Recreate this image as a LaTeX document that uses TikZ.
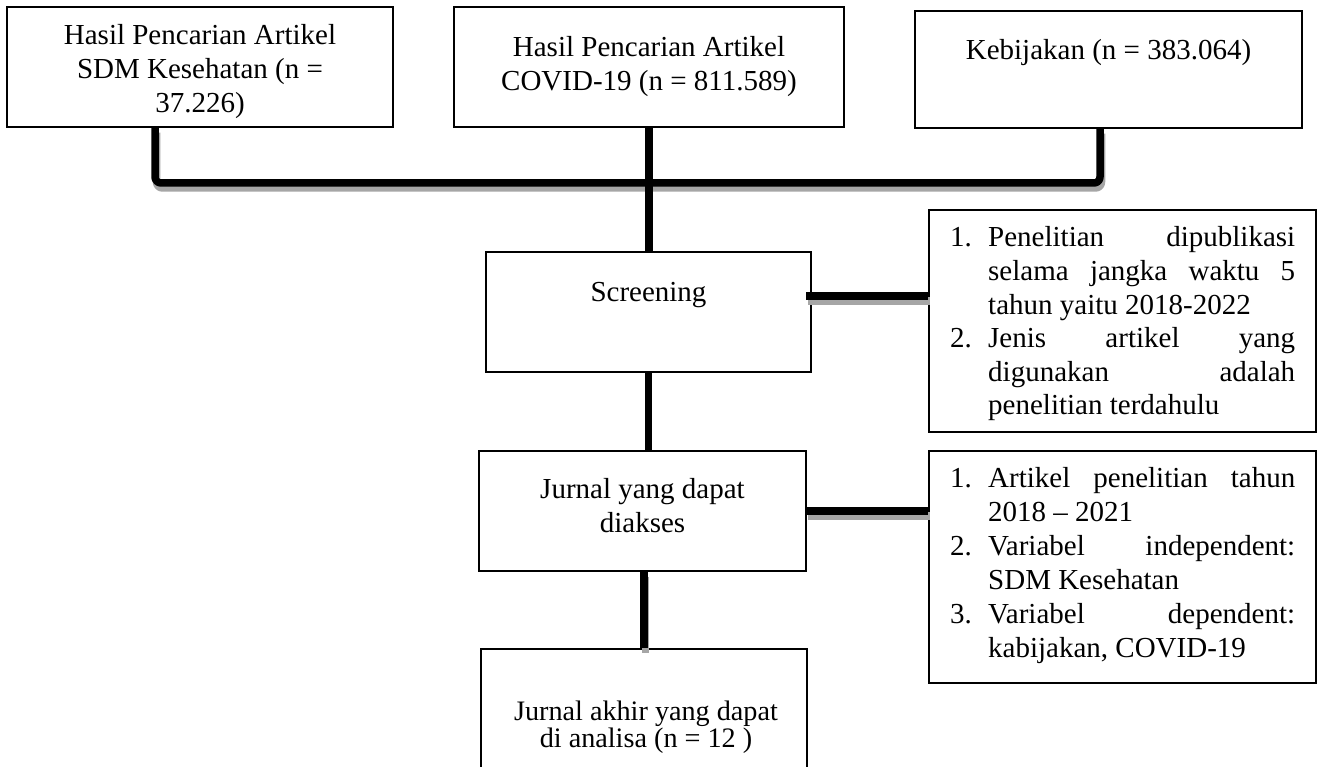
\documentclass[tikz,border=0pt]{standalone}
\usepackage{fontspec}
\setmainfont{Liberation Serif}
\newcommand\jlin[1]{\hbox to 307pt{\spaceskip=0.25em plus 1fil\relax #1}}
\newcommand\llin[1]{\hbox to 307pt{#1\hfil}}
\newcommand\numrow[2]{\hbox{\hbox to 38pt{#1\hfil}#2}}
\newcommand\indrow[1]{\hbox{\hskip38pt #1}}
\newcommand\ctext[2]{\vtop{\hsize=#1\parindent=0pt\centering #2\par}}
\tikzset{
  every node/.style={font=\fontsize{29}{34}\selectfont, inner sep=0pt},
  box/.style={draw, line width=1.3pt, fill=white, rectangle},
  conn/.style={line width=7.5pt, draw=black, rounded corners=6pt, line join=round},
  shad/.style={line width=7.5pt, draw=black!35, rounded corners=6pt, line join=round,
               transform canvas={xshift=1.5pt, yshift=-5pt}},
}
\begin{document}
\begin{tikzpicture}[x=1pt, y=-1pt]
\useasboundingbox (0,0) rectangle (1320,767);
\clip (0,0) rectangle (1320,767);
\fill[white] (0,0) rectangle (1320,767);

% boxes
\node[box, minimum width=386pt, minimum height=120pt] (b1) at (200,67) {};
\node[box, minimum width=390pt, minimum height=120pt] (b2) at (649,67) {};
\node[box, minimum width=387pt, minimum height=117pt] (b3) at (1108.5,69.5) {};
\node[box, minimum width=325pt, minimum height=120pt] (scr) at (648.5,312) {};
\node[box, minimum width=387pt, minimum height=222pt] (r1) at (1122.5,321) {};
\node[box, minimum width=327pt, minimum height=120pt] (jur) at (642.5,511) {};
\node[box, minimum width=387pt, minimum height=232pt] (r2) at (1122.5,567) {};
\node[box, minimum width=326pt, minimum height=151pt] (fin) at (644,724.5) {};

% texts
\node[anchor=base] (t1) at (200,45) {\ctext{380pt}{Hasil Pencarian Artikel\\SDM Kesehatan (n =\\37.226)}};
\node[anchor=base] (t2) at (649,57) {\ctext{380pt}{Hasil Pencarian Artikel\\COVID-19 (n = 811.589)}};
\node[anchor=base] (t3) at (1108.5,60) {Kebijakan (n = 383.064)};
\node[anchor=base] (ts) at (648.5,302) {Screening};
\node[anchor=base] (tj) at (642.5,498) {\ctext{320pt}{Jurnal yang dapat\\diakses}};
\node[anchor=base, font=\fontsize{28.2}{27.5}\selectfont] (tf) at (646,720) {\ctext{320pt}{Jurnal akhir yang dapat\\di analisa (n = 12 )}};
\node[anchor=base west] (tr1) at (950,247) {\vtop{\baselineskip=33.6pt
  \numrow{1.}{\jlin{Penelitian dipublikasi}}
  \indrow{\jlin{selama jangka waktu 5}}
  \indrow{\llin{tahun yaitu 2018-2022}}
  \numrow{2.}{\jlin{Jenis artikel yang}}
  \indrow{\jlin{digunakan adalah}}
  \indrow{\llin{penelitian terdahulu}}}};
\node[anchor=base west] (tr2) at (950,487) {\vtop{\baselineskip=34pt
  \numrow{1.}{\jlin{Artikel penelitian tahun}}
  \indrow{\llin{2018 – 2021}}
  \numrow{2.}{\jlin{Variabel independent:}}
  \indrow{\llin{SDM Kesehatan}}
  \numrow{3.}{\jlin{Variabel dependent:}}
  \indrow{\llin{kabijakan, COVID-19}}}};

% connector coordinates
\coordinate (busL) at (155,183);
\coordinate (busR) at (1100,183);
\coordinate (c1) at (806,296);

% shadows
\draw[shad] (b1.south -| busL) -- (busL) -- (busR) -- (b3.south -| busR);
\draw[shad] (c1) -- (c1 -| r1.west);
\draw[shad] (jur.east) -- (jur.east -| r2.west);
\draw[shad] (fin.north |- jur.south) -- (fin.north);

% connectors
\draw[conn] (b1.south -| busL) -- (busL) -- (busR) -- (b3.south -| busR);
\draw[conn] (b2.south) -- (b2.south |- scr.north);
\draw[conn] (scr.south) -- (scr.south |- jur.north);
\draw[conn] (c1) -- (c1 -| r1.west);
\draw[conn] (jur.east) -- (jur.east -| r2.west);
\draw[conn] (fin.north |- jur.south) -- (fin.north);
\end{tikzpicture}
\end{document}
